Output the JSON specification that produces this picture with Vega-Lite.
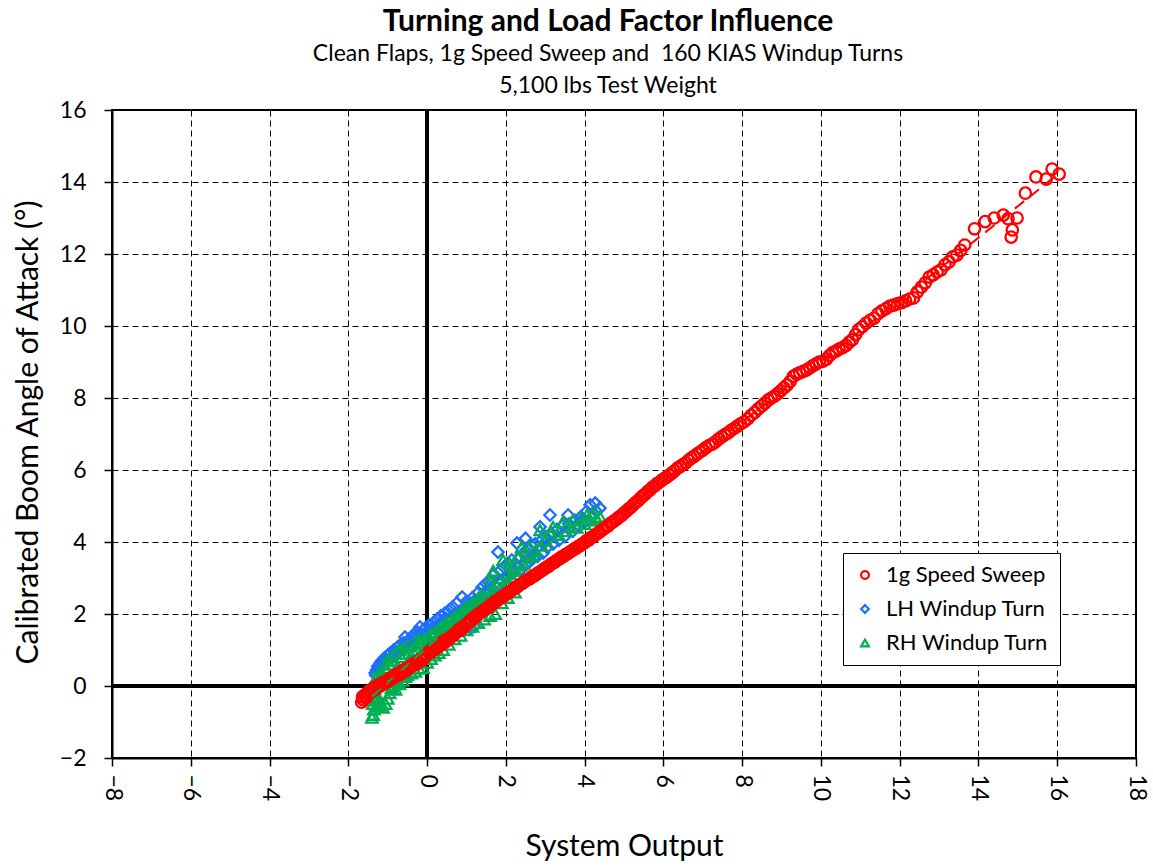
{
  "$schema": "https://vega.github.io/schema/vega-lite/v6.json",
  "width": 1024,
  "height": 648,
  "autosize": {"type": "none"},
  "padding": {"left": 112, "top": 110, "right": 17, "bottom": 109},
  "background": "white",
  "config": {
    "font": "Lato",
    "view": {"stroke": "black", "strokeWidth": 2},
    "axis": {
      "labelFont": "Lato", "titleFont": "Lato", "labelColor": "black", "titleColor": "black",
      "labelFontSize": 23, "titleFontSize": 30, "titleFontWeight": "normal",
      "domainColor": "black", "domainWidth": 2, "tickColor": "black", "tickWidth": 1.5, "tickSize": 8,
      "grid": true, "gridColor": "black", "gridWidth": 1, "gridDash": [6, 4], "gridOpacity": 1
    }
  },
  "title": {
    "text": "Turning and Load Factor Influence",
    "subtitle": ["Clean Flaps, 1g Speed Sweep and \u00a0160 KIAS Windup Turns", "5,100 lbs Test Weight"],
    "font": "Lato", "fontSize": 30, "fontWeight": "bold", "color": "black",
    "subtitleFont": "Lato", "subtitleFontSize": 23, "subtitleColor": "black", "subtitleLineHeight": 32,
    "subtitlePadding": 6, "anchor": "middle", "dx": -16, "offset": 1
  },
  "data": {"values": [
    {"s":"LH Windup Turn","x":-1.32,"y":0.36},{"s":"LH Windup Turn","x":-1.30,"y":0.30},{"s":"LH Windup Turn","x":-1.28,"y":0.45},{"s":"LH Windup Turn","x":-1.25,"y":0.55},{"s":"LH Windup Turn","x":-1.22,"y":0.50},{"s":"LH Windup Turn","x":-1.19,"y":0.64},{"s":"LH Windup Turn","x":-1.15,"y":0.70},{"s":"LH Windup Turn","x":-1.12,"y":0.62},{"s":"LH Windup Turn","x":-1.08,"y":0.78},{"s":"LH Windup Turn","x":-1.04,"y":0.72},{"s":"LH Windup Turn","x":-1.00,"y":0.85},{"s":"LH Windup Turn","x":-0.95,"y":0.90},{"s":"LH Windup Turn","x":-0.90,"y":0.82},{"s":"LH Windup Turn","x":-0.85,"y":1.00},{"s":"LH Windup Turn","x":-0.80,"y":0.95},{"s":"LH Windup Turn","x":-0.75,"y":1.08},{"s":"LH Windup Turn","x":-0.75,"y":0.12},{"s":"LH Windup Turn","x":-0.70,"y":0.25},{"s":"LH Windup Turn","x":-0.70,"y":1.12},{"s":"LH Windup Turn","x":-0.65,"y":1.05},{"s":"LH Windup Turn","x":-0.60,"y":1.20},{"s":"LH Windup Turn","x":-0.56,"y":1.36},{"s":"LH Windup Turn","x":-0.52,"y":1.18},{"s":"LH Windup Turn","x":-0.45,"y":1.30},{"s":"LH Windup Turn","x":-0.40,"y":1.25},{"s":"LH Windup Turn","x":-0.35,"y":1.42},{"s":"LH Windup Turn","x":-0.30,"y":1.35},{"s":"LH Windup Turn","x":-0.25,"y":1.50},{"s":"LH Windup Turn","x":-0.18,"y":1.64},{"s":"LH Windup Turn","x":-0.15,"y":1.45},{"s":"LH Windup Turn","x":-0.10,"y":1.55},{"s":"LH Windup Turn","x":-0.05,"y":1.60},{"s":"LH Windup Turn","x":0.00,"y":1.50},{"s":"LH Windup Turn","x":0.05,"y":1.70},{"s":"LH Windup Turn","x":0.10,"y":1.58},{"s":"LH Windup Turn","x":0.15,"y":1.75},{"s":"LH Windup Turn","x":0.20,"y":1.62},{"s":"LH Windup Turn","x":0.25,"y":1.85},{"s":"LH Windup Turn","x":0.30,"y":1.70},{"s":"LH Windup Turn","x":0.35,"y":1.95},{"s":"LH Windup Turn","x":0.40,"y":1.78},{"s":"LH Windup Turn","x":0.45,"y":2.02},{"s":"LH Windup Turn","x":0.50,"y":1.85},{"s":"LH Windup Turn","x":0.55,"y":2.10},{"s":"LH Windup Turn","x":0.60,"y":1.90},{"s":"LH Windup Turn","x":0.65,"y":2.20},{"s":"LH Windup Turn","x":0.70,"y":1.98},{"s":"LH Windup Turn","x":0.75,"y":2.30},{"s":"LH Windup Turn","x":0.80,"y":2.05},{"s":"LH Windup Turn","x":0.89,"y":2.47},{"s":"LH Windup Turn","x":0.95,"y":2.15},{"s":"LH Windup Turn","x":1.00,"y":2.35},{"s":"LH Windup Turn","x":1.05,"y":2.20},{"s":"LH Windup Turn","x":1.10,"y":1.60},{"s":"LH Windup Turn","x":1.20,"y":1.65},{"s":"LH Windup Turn","x":1.15,"y":2.45},{"s":"LH Windup Turn","x":1.25,"y":2.30},{"s":"LH Windup Turn","x":1.30,"y":2.60},{"s":"LH Windup Turn","x":1.35,"y":2.40},{"s":"LH Windup Turn","x":1.40,"y":2.75},{"s":"LH Windup Turn","x":1.45,"y":2.50},{"s":"LH Windup Turn","x":1.50,"y":2.85},{"s":"LH Windup Turn","x":1.55,"y":2.60},{"s":"LH Windup Turn","x":1.60,"y":2.95},{"s":"LH Windup Turn","x":1.65,"y":2.70},{"s":"LH Windup Turn","x":1.70,"y":3.10},{"s":"LH Windup Turn","x":1.75,"y":2.75},{"s":"LH Windup Turn","x":1.80,"y":3.72},{"s":"LH Windup Turn","x":1.85,"y":3.20},{"s":"LH Windup Turn","x":1.90,"y":2.90},{"s":"LH Windup Turn","x":1.95,"y":3.30},{"s":"LH Windup Turn","x":2.00,"y":3.00},{"s":"LH Windup Turn","x":2.05,"y":3.40},{"s":"LH Windup Turn","x":2.10,"y":3.10},{"s":"LH Windup Turn","x":2.15,"y":3.50},{"s":"LH Windup Turn","x":2.20,"y":3.15},{"s":"LH Windup Turn","x":2.28,"y":3.97},{"s":"LH Windup Turn","x":2.30,"y":3.30},{"s":"LH Windup Turn","x":2.35,"y":3.55},{"s":"LH Windup Turn","x":2.40,"y":3.25},{"s":"LH Windup Turn","x":2.45,"y":3.70},{"s":"LH Windup Turn","x":2.50,"y":4.10},{"s":"LH Windup Turn","x":2.50,"y":3.36},{"s":"LH Windup Turn","x":2.55,"y":3.80},{"s":"LH Windup Turn","x":2.60,"y":3.45},{"s":"LH Windup Turn","x":2.65,"y":3.90},{"s":"LH Windup Turn","x":2.70,"y":3.55},{"s":"LH Windup Turn","x":2.75,"y":3.95},{"s":"LH Windup Turn","x":2.80,"y":3.60},{"s":"LH Windup Turn","x":2.87,"y":4.42},{"s":"LH Windup Turn","x":2.90,"y":4.05},{"s":"LH Windup Turn","x":2.95,"y":3.70},{"s":"LH Windup Turn","x":3.00,"y":4.15},{"s":"LH Windup Turn","x":3.05,"y":3.85},{"s":"LH Windup Turn","x":3.12,"y":4.75},{"s":"LH Windup Turn","x":3.15,"y":4.25},{"s":"LH Windup Turn","x":3.20,"y":3.95},{"s":"LH Windup Turn","x":3.30,"y":4.35},{"s":"LH Windup Turn","x":3.35,"y":4.05},{"s":"LH Windup Turn","x":3.45,"y":4.45},{"s":"LH Windup Turn","x":3.50,"y":4.15},{"s":"LH Windup Turn","x":3.58,"y":4.75},{"s":"LH Windup Turn","x":3.60,"y":4.50},{"s":"LH Windup Turn","x":3.70,"y":4.30},{"s":"LH Windup Turn","x":3.75,"y":4.60},{"s":"LH Windup Turn","x":3.85,"y":4.45},{"s":"LH Windup Turn","x":3.90,"y":4.70},{"s":"LH Windup Turn","x":4.00,"y":4.55},{"s":"LH Windup Turn","x":4.05,"y":4.85},{"s":"LH Windup Turn","x":4.14,"y":5.03},{"s":"LH Windup Turn","x":4.20,"y":4.70},{"s":"LH Windup Turn","x":4.27,"y":5.08},{"s":"LH Windup Turn","x":4.30,"y":4.85},{"s":"LH Windup Turn","x":4.39,"y":4.94},

    {"s":"RH Windup Turn","x":-1.40,"y":-0.88},{"s":"RH Windup Turn","x":-1.37,"y":-0.80},{"s":"RH Windup Turn","x":-1.35,"y":-0.65},{"s":"RH Windup Turn","x":-1.38,"y":-0.50},{"s":"RH Windup Turn","x":-1.33,"y":-0.40},{"s":"RH Windup Turn","x":-1.36,"y":-0.28},{"s":"RH Windup Turn","x":-1.30,"y":-0.20},{"s":"RH Windup Turn","x":-1.34,"y":-0.08},{"s":"RH Windup Turn","x":-1.27,"y":-0.35},{"s":"RH Windup Turn","x":-1.22,"y":-0.55},{"s":"RH Windup Turn","x":-1.18,"y":-0.45},{"s":"RH Windup Turn","x":-1.12,"y":-0.60},{"s":"RH Windup Turn","x":-1.05,"y":-0.50},{"s":"RH Windup Turn","x":-1.00,"y":-0.35},{"s":"RH Windup Turn","x":-0.95,"y":-0.20},{"s":"RH Windup Turn","x":-0.90,"y":-0.05},{"s":"RH Windup Turn","x":-0.85,"y":0.00},{"s":"RH Windup Turn","x":-0.80,"y":-0.10},{"s":"RH Windup Turn","x":-0.75,"y":0.10},{"s":"RH Windup Turn","x":-0.70,"y":0.05},{"s":"RH Windup Turn","x":-0.62,"y":0.15},{"s":"RH Windup Turn","x":-0.55,"y":0.25},{"s":"RH Windup Turn","x":-0.50,"y":0.30},{"s":"RH Windup Turn","x":-0.40,"y":0.35},{"s":"RH Windup Turn","x":-0.30,"y":0.40},{"s":"RH Windup Turn","x":-0.20,"y":0.48},{"s":"RH Windup Turn","x":-0.10,"y":0.50},{"s":"RH Windup Turn","x":0.00,"y":0.65},{"s":"RH Windup Turn","x":0.10,"y":0.75},{"s":"RH Windup Turn","x":0.20,"y":0.85},{"s":"RH Windup Turn","x":0.30,"y":0.92},{"s":"RH Windup Turn","x":0.41,"y":1.00},{"s":"RH Windup Turn","x":0.55,"y":1.15},{"s":"RH Windup Turn","x":0.70,"y":1.30},{"s":"RH Windup Turn","x":0.85,"y":1.40},{"s":"RH Windup Turn","x":1.00,"y":1.55},{"s":"RH Windup Turn","x":1.15,"y":1.65},{"s":"RH Windup Turn","x":1.30,"y":1.75},{"s":"RH Windup Turn","x":1.45,"y":1.85},{"s":"RH Windup Turn","x":1.60,"y":1.95},{"s":"RH Windup Turn","x":1.73,"y":2.00},{"s":"RH Windup Turn","x":1.90,"y":2.30},{"s":"RH Windup Turn","x":2.05,"y":2.45},{"s":"RH Windup Turn","x":2.23,"y":2.60},
    {"s":"RH Windup Turn","x":-1.30,"y":0.05},{"s":"RH Windup Turn","x":-1.28,"y":0.25},{"s":"RH Windup Turn","x":-1.22,"y":0.17},{"s":"RH Windup Turn","x":-1.20,"y":0.45},{"s":"RH Windup Turn","x":-1.15,"y":0.35},{"s":"RH Windup Turn","x":-1.10,"y":0.60},{"s":"RH Windup Turn","x":-1.05,"y":0.50},{"s":"RH Windup Turn","x":-1.00,"y":0.70},{"s":"RH Windup Turn","x":-0.95,"y":0.60},{"s":"RH Windup Turn","x":-0.90,"y":0.80},{"s":"RH Windup Turn","x":-0.85,"y":0.70},{"s":"RH Windup Turn","x":-0.80,"y":0.90},{"s":"RH Windup Turn","x":-0.75,"y":0.55},{"s":"RH Windup Turn","x":-0.70,"y":1.00},{"s":"RH Windup Turn","x":-0.65,"y":0.80},{"s":"RH Windup Turn","x":-0.60,"y":1.05},{"s":"RH Windup Turn","x":-0.55,"y":0.90},{"s":"RH Windup Turn","x":-0.50,"y":1.10},{"s":"RH Windup Turn","x":-0.45,"y":0.70},{"s":"RH Windup Turn","x":-0.40,"y":1.15},{"s":"RH Windup Turn","x":-0.35,"y":0.95},{"s":"RH Windup Turn","x":-0.30,"y":1.20},{"s":"RH Windup Turn","x":-0.25,"y":1.00},{"s":"RH Windup Turn","x":-0.20,"y":1.30},{"s":"RH Windup Turn","x":-0.15,"y":0.90},{"s":"RH Windup Turn","x":-0.10,"y":1.35},{"s":"RH Windup Turn","x":-0.05,"y":1.10},{"s":"RH Windup Turn","x":0.00,"y":1.40},{"s":"RH Windup Turn","x":0.05,"y":1.20},{"s":"RH Windup Turn","x":0.10,"y":1.45},{"s":"RH Windup Turn","x":0.15,"y":1.10},{"s":"RH Windup Turn","x":0.20,"y":1.50},{"s":"RH Windup Turn","x":0.25,"y":1.30},{"s":"RH Windup Turn","x":0.30,"y":1.60},{"s":"RH Windup Turn","x":0.35,"y":1.40},{"s":"RH Windup Turn","x":0.40,"y":1.70},{"s":"RH Windup Turn","x":0.45,"y":1.50},{"s":"RH Windup Turn","x":0.50,"y":1.75},{"s":"RH Windup Turn","x":0.55,"y":1.55},{"s":"RH Windup Turn","x":0.60,"y":1.85},{"s":"RH Windup Turn","x":0.65,"y":1.65},{"s":"RH Windup Turn","x":0.70,"y":1.90},{"s":"RH Windup Turn","x":0.75,"y":1.70},{"s":"RH Windup Turn","x":0.80,"y":2.00},{"s":"RH Windup Turn","x":0.85,"y":1.80},{"s":"RH Windup Turn","x":0.90,"y":2.10},{"s":"RH Windup Turn","x":0.95,"y":1.90},{"s":"RH Windup Turn","x":1.00,"y":2.20},{"s":"RH Windup Turn","x":1.05,"y":2.00},{"s":"RH Windup Turn","x":1.10,"y":2.30},{"s":"RH Windup Turn","x":1.15,"y":2.05},{"s":"RH Windup Turn","x":1.20,"y":2.35},{"s":"RH Windup Turn","x":1.25,"y":2.15},{"s":"RH Windup Turn","x":1.30,"y":2.45},{"s":"RH Windup Turn","x":1.35,"y":2.20},{"s":"RH Windup Turn","x":1.40,"y":2.55},{"s":"RH Windup Turn","x":1.45,"y":2.30},{"s":"RH Windup Turn","x":1.50,"y":2.70},{"s":"RH Windup Turn","x":1.55,"y":2.40},{"s":"RH Windup Turn","x":1.60,"y":2.90},{"s":"RH Windup Turn","x":1.68,"y":3.20},{"s":"RH Windup Turn","x":1.70,"y":2.60},{"s":"RH Windup Turn","x":1.80,"y":3.00},{"s":"RH Windup Turn","x":1.85,"y":2.70},{"s":"RH Windup Turn","x":1.93,"y":3.50},{"s":"RH Windup Turn","x":2.00,"y":3.10},{"s":"RH Windup Turn","x":2.05,"y":2.90},{"s":"RH Windup Turn","x":2.10,"y":3.40},{"s":"RH Windup Turn","x":2.15,"y":3.00},{"s":"RH Windup Turn","x":2.20,"y":3.30},{"s":"RH Windup Turn","x":2.30,"y":3.60},{"s":"RH Windup Turn","x":2.35,"y":3.20},{"s":"RH Windup Turn","x":2.40,"y":3.86},{"s":"RH Windup Turn","x":2.45,"y":3.40},{"s":"RH Windup Turn","x":2.50,"y":3.60},{"s":"RH Windup Turn","x":2.60,"y":3.87},{"s":"RH Windup Turn","x":2.65,"y":3.60},{"s":"RH Windup Turn","x":2.75,"y":3.75},{"s":"RH Windup Turn","x":2.87,"y":4.33},{"s":"RH Windup Turn","x":2.90,"y":3.90},{"s":"RH Windup Turn","x":3.00,"y":4.05},{"s":"RH Windup Turn","x":3.12,"y":4.25},{"s":"RH Windup Turn","x":3.20,"y":4.42},{"s":"RH Windup Turn","x":3.30,"y":4.20},{"s":"RH Windup Turn","x":3.45,"y":4.56},{"s":"RH Windup Turn","x":3.50,"y":4.30},{"s":"RH Windup Turn","x":3.60,"y":4.45},{"s":"RH Windup Turn","x":3.70,"y":4.60},{"s":"RH Windup Turn","x":3.80,"y":4.40},{"s":"RH Windup Turn","x":3.90,"y":4.65},{"s":"RH Windup Turn","x":4.00,"y":4.50},{"s":"RH Windup Turn","x":4.06,"y":4.75},{"s":"RH Windup Turn","x":4.15,"y":4.60},{"s":"RH Windup Turn","x":4.20,"y":4.80},{"s":"RH Windup Turn","x":4.30,"y":4.65},{"s":"RH Windup Turn","x":4.39,"y":4.70},

    {"s":"1g Speed Sweep","x":-1.66,"y":-0.45},{"s":"1g Speed Sweep","x":-1.64,"y":-0.30},{"s":"1g Speed Sweep","x":-1.62,"y":-0.38},{"s":"1g Speed Sweep","x":-1.58,"y":-0.25},{"s":"1g Speed Sweep","x":-1.55,"y":-0.33},{"s":"1g Speed Sweep","x":-1.52,"y":-0.20},{"s":"1g Speed Sweep","x":-1.48,"y":-0.22},{"s":"1g Speed Sweep","x":-1.45,"y":-0.12},{"s":"1g Speed Sweep","x":-1.40,"y":-0.15},{"s":"1g Speed Sweep","x":-1.36,"y":-0.05},{"s":"1g Speed Sweep","x":-1.32,"y":-0.10},{"s":"1g Speed Sweep","x":-1.28,"y":0.00},{"s":"1g Speed Sweep","x":-1.24,"y":-0.03},{"s":"1g Speed Sweep","x":-1.20,"y":0.05},{"s":"1g Speed Sweep","x":-1.15,"y":0.02},{"s":"1g Speed Sweep","x":-1.11,"y":0.10},{"s":"1g Speed Sweep","x":-1.07,"y":0.08},{"s":"1g Speed Sweep","x":-1.02,"y":0.16},{"s":"1g Speed Sweep","x":-0.98,"y":0.14},{"s":"1g Speed Sweep","x":-0.94,"y":0.22},{"s":"1g Speed Sweep","x":-0.90,"y":0.20},{"s":"1g Speed Sweep","x":-0.85,"y":0.27},{"s":"1g Speed Sweep","x":-0.81,"y":0.25},{"s":"1g Speed Sweep","x":-0.77,"y":0.33},{"s":"1g Speed Sweep","x":-0.72,"y":0.31},{"s":"1g Speed Sweep","x":-0.68,"y":0.38},{"s":"1g Speed Sweep","x":-0.64,"y":0.36},{"s":"1g Speed Sweep","x":-0.60,"y":0.44},{"s":"1g Speed Sweep","x":-0.55,"y":0.42},{"s":"1g Speed Sweep","x":-0.51,"y":0.50},{"s":"1g Speed Sweep","x":-0.47,"y":0.48},{"s":"1g Speed Sweep","x":-0.42,"y":0.56},{"s":"1g Speed Sweep","x":-0.38,"y":0.55},{"s":"1g Speed Sweep","x":-0.34,"y":0.62},{"s":"1g Speed Sweep","x":-0.30,"y":0.60},{"s":"1g Speed Sweep","x":-0.25,"y":0.68},{"s":"1g Speed Sweep","x":-0.21,"y":0.66},{"s":"1g Speed Sweep","x":-0.17,"y":0.74},{"s":"1g Speed Sweep","x":-0.12,"y":0.72},{"s":"1g Speed Sweep","x":-0.08,"y":0.80},{"s":"1g Speed Sweep","x":-0.04,"y":0.82},{"s":"1g Speed Sweep","x":0.00,"y":0.88},{"s":"1g Speed Sweep","x":0.05,"y":0.95},{"s":"1g Speed Sweep","x":0.09,"y":0.93},{"s":"1g Speed Sweep","x":0.14,"y":1.02},{"s":"1g Speed Sweep","x":0.18,"y":1.00},{"s":"1g Speed Sweep","x":0.23,"y":1.10},{"s":"1g Speed Sweep","x":0.28,"y":1.08},{"s":"1g Speed Sweep","x":0.32,"y":1.17},{"s":"1g Speed Sweep","x":0.37,"y":1.15},{"s":"1g Speed Sweep","x":0.42,"y":1.25},{"s":"1g Speed Sweep","x":0.46,"y":1.22},{"s":"1g Speed Sweep","x":0.51,"y":1.32},{"s":"1g Speed Sweep","x":0.56,"y":1.30},{"s":"1g Speed Sweep","x":0.60,"y":1.38},{"s":"1g Speed Sweep","x":0.65,"y":1.40},{"s":"1g Speed Sweep","x":0.70,"y":1.46},{"s":"1g Speed Sweep","x":0.74,"y":1.48},{"s":"1g Speed Sweep","x":0.79,"y":1.55},{"s":"1g Speed Sweep","x":0.84,"y":1.54},{"s":"1g Speed Sweep","x":0.88,"y":1.63},{"s":"1g Speed Sweep","x":0.93,"y":1.62},{"s":"1g Speed Sweep","x":0.98,"y":1.70},{"s":"1g Speed Sweep","x":1.03,"y":1.75},{"s":"1g Speed Sweep","x":1.08,"y":1.80},{"s":"1g Speed Sweep","x":1.13,"y":1.82},{"s":"1g Speed Sweep","x":1.18,"y":1.90},{"s":"1g Speed Sweep","x":1.23,"y":1.92},{"s":"1g Speed Sweep","x":1.28,"y":1.98},{"s":"1g Speed Sweep","x":1.33,"y":2.02},{"s":"1g Speed Sweep","x":1.38,"y":2.05},{"s":"1g Speed Sweep","x":1.43,"y":2.10},{"s":"1g Speed Sweep","x":1.48,"y":2.13},{"s":"1g Speed Sweep","x":1.53,"y":2.18},{"s":"1g Speed Sweep","x":1.58,"y":2.20},{"s":"1g Speed Sweep","x":1.63,"y":2.27},{"s":"1g Speed Sweep","x":1.68,"y":2.28},{"s":"1g Speed Sweep","x":1.73,"y":2.35},{"s":"1g Speed Sweep","x":1.78,"y":2.37},{"s":"1g Speed Sweep","x":1.83,"y":2.42},{"s":"1g Speed Sweep","x":1.88,"y":2.45},{"s":"1g Speed Sweep","x":1.93,"y":2.50},{"s":"1g Speed Sweep","x":1.98,"y":2.52},{"s":"1g Speed Sweep","x":2.03,"y":2.58},{"s":"1g Speed Sweep","x":2.08,"y":2.60},{"s":"1g Speed Sweep","x":2.14,"y":2.66},{"s":"1g Speed Sweep","x":2.19,"y":2.68},{"s":"1g Speed Sweep","x":2.24,"y":2.74},{"s":"1g Speed Sweep","x":2.29,"y":2.75},{"s":"1g Speed Sweep","x":2.35,"y":2.82},{"s":"1g Speed Sweep","x":2.40,"y":2.84},{"s":"1g Speed Sweep","x":2.45,"y":2.88},{"s":"1g Speed Sweep","x":2.50,"y":2.92},{"s":"1g Speed Sweep","x":2.56,"y":2.96},{"s":"1g Speed Sweep","x":2.61,"y":2.98},{"s":"1g Speed Sweep","x":2.66,"y":3.04},{"s":"1g Speed Sweep","x":2.72,"y":3.06},{"s":"1g Speed Sweep","x":2.77,"y":3.10},{"s":"1g Speed Sweep","x":2.82,"y":3.14},{"s":"1g Speed Sweep","x":2.88,"y":3.18},{"s":"1g Speed Sweep","x":2.93,"y":3.22},{"s":"1g Speed Sweep","x":2.98,"y":3.26},{"s":"1g Speed Sweep","x":3.04,"y":3.30},{"s":"1g Speed Sweep","x":3.09,"y":3.33},{"s":"1g Speed Sweep","x":3.14,"y":3.38},{"s":"1g Speed Sweep","x":3.20,"y":3.42},{"s":"1g Speed Sweep","x":3.25,"y":3.45},{"s":"1g Speed Sweep","x":3.30,"y":3.50},{"s":"1g Speed Sweep","x":3.36,"y":3.53},{"s":"1g Speed Sweep","x":3.41,"y":3.58},{"s":"1g Speed Sweep","x":3.46,"y":3.60},{"s":"1g Speed Sweep","x":3.52,"y":3.65},{"s":"1g Speed Sweep","x":3.57,"y":3.68},{"s":"1g Speed Sweep","x":3.62,"y":3.72},{"s":"1g Speed Sweep","x":3.68,"y":3.76},{"s":"1g Speed Sweep","x":3.73,"y":3.80},{"s":"1g Speed Sweep","x":3.78,"y":3.82},{"s":"1g Speed Sweep","x":3.84,"y":3.88},{"s":"1g Speed Sweep","x":3.89,"y":3.90},{"s":"1g Speed Sweep","x":3.94,"y":3.95},{"s":"1g Speed Sweep","x":4.00,"y":3.98},{"s":"1g Speed Sweep","x":4.05,"y":4.04},{"s":"1g Speed Sweep","x":4.11,"y":4.06},{"s":"1g Speed Sweep","x":4.16,"y":4.12},{"s":"1g Speed Sweep","x":4.22,"y":4.15},{"s":"1g Speed Sweep","x":4.27,"y":4.20},{"s":"1g Speed Sweep","x":4.33,"y":4.24},{"s":"1g Speed Sweep","x":4.38,"y":4.28},{"s":"1g Speed Sweep","x":4.44,"y":4.33},{"s":"1g Speed Sweep","x":4.49,"y":4.37},{"s":"1g Speed Sweep","x":4.55,"y":4.42},{"s":"1g Speed Sweep","x":4.60,"y":4.45},{"s":"1g Speed Sweep","x":4.66,"y":4.52},{"s":"1g Speed Sweep","x":4.71,"y":4.55},{"s":"1g Speed Sweep","x":4.77,"y":4.60},{"s":"1g Speed Sweep","x":4.83,"y":4.65},{"s":"1g Speed Sweep","x":4.88,"y":4.70},{"s":"1g Speed Sweep","x":4.94,"y":4.74},{"s":"1g Speed Sweep","x":5.00,"y":4.80},{"s":"1g Speed Sweep","x":5.06,"y":4.86},{"s":"1g Speed Sweep","x":5.12,"y":4.92},{"s":"1g Speed Sweep","x":5.18,"y":4.97},{"s":"1g Speed Sweep","x":5.24,"y":5.04},{"s":"1g Speed Sweep","x":5.30,"y":5.10},{"s":"1g Speed Sweep","x":5.36,"y":5.15},{"s":"1g Speed Sweep","x":5.42,"y":5.22},{"s":"1g Speed Sweep","x":5.48,"y":5.28},{"s":"1g Speed Sweep","x":5.54,"y":5.33},{"s":"1g Speed Sweep","x":5.60,"y":5.40},{"s":"1g Speed Sweep","x":5.66,"y":5.45},{"s":"1g Speed Sweep","x":5.72,"y":5.52},{"s":"1g Speed Sweep","x":5.78,"y":5.56},{"s":"1g Speed Sweep","x":5.84,"y":5.62},{"s":"1g Speed Sweep","x":5.90,"y":5.66},{"s":"1g Speed Sweep","x":5.96,"y":5.72},{"s":"1g Speed Sweep","x":6.02,"y":5.76},{"s":"1g Speed Sweep","x":6.08,"y":5.80},{"s":"1g Speed Sweep","x":6.15,"y":5.86},{"s":"1g Speed Sweep","x":6.22,"y":5.92},{"s":"1g Speed Sweep","x":6.29,"y":5.98},{"s":"1g Speed Sweep","x":6.36,"y":6.05},{"s":"1g Speed Sweep","x":6.43,"y":6.10},{"s":"1g Speed Sweep","x":6.50,"y":6.15},{"s":"1g Speed Sweep","x":6.57,"y":6.20},{"s":"1g Speed Sweep","x":6.64,"y":6.27},{"s":"1g Speed Sweep","x":6.71,"y":6.33},{"s":"1g Speed Sweep","x":6.78,"y":6.38},{"s":"1g Speed Sweep","x":6.86,"y":6.45},{"s":"1g Speed Sweep","x":6.93,"y":6.50},{"s":"1g Speed Sweep","x":7.00,"y":6.55},{"s":"1g Speed Sweep","x":7.08,"y":6.62},{"s":"1g Speed Sweep","x":7.16,"y":6.68},{"s":"1g Speed Sweep","x":7.24,"y":6.72},{"s":"1g Speed Sweep","x":7.32,"y":6.78},{"s":"1g Speed Sweep","x":7.40,"y":6.86},{"s":"1g Speed Sweep","x":7.48,"y":6.92},{"s":"1g Speed Sweep","x":7.56,"y":6.98},{"s":"1g Speed Sweep","x":7.64,"y":7.03},{"s":"1g Speed Sweep","x":7.72,"y":7.10},{"s":"1g Speed Sweep","x":7.80,"y":7.16},{"s":"1g Speed Sweep","x":7.88,"y":7.22},{"s":"1g Speed Sweep","x":7.96,"y":7.28},{"s":"1g Speed Sweep","x":8.05,"y":7.34},{"s":"1g Speed Sweep","x":8.14,"y":7.42},{"s":"1g Speed Sweep","x":8.23,"y":7.52},{"s":"1g Speed Sweep","x":8.32,"y":7.60},{"s":"1g Speed Sweep","x":8.41,"y":7.70},{"s":"1g Speed Sweep","x":8.50,"y":7.78},{"s":"1g Speed Sweep","x":8.58,"y":7.86},{"s":"1g Speed Sweep","x":8.66,"y":7.94},{"s":"1g Speed Sweep","x":8.74,"y":8.00},{"s":"1g Speed Sweep","x":8.82,"y":8.05},{"s":"1g Speed Sweep","x":8.90,"y":8.12},{"s":"1g Speed Sweep","x":8.98,"y":8.20},{"s":"1g Speed Sweep","x":9.06,"y":8.28},{"s":"1g Speed Sweep","x":9.14,"y":8.36},{"s":"1g Speed Sweep","x":9.22,"y":8.46},{"s":"1g Speed Sweep","x":9.30,"y":8.60},{"s":"1g Speed Sweep","x":9.38,"y":8.66},{"s":"1g Speed Sweep","x":9.46,"y":8.70},{"s":"1g Speed Sweep","x":9.55,"y":8.74},{"s":"1g Speed Sweep","x":9.64,"y":8.78},{"s":"1g Speed Sweep","x":9.72,"y":8.84},{"s":"1g Speed Sweep","x":9.80,"y":8.90},{"s":"1g Speed Sweep","x":9.88,"y":8.95},{"s":"1g Speed Sweep","x":9.96,"y":9.00},{"s":"1g Speed Sweep","x":10.05,"y":9.02},{"s":"1g Speed Sweep","x":10.14,"y":9.08},{"s":"1g Speed Sweep","x":10.22,"y":9.18},{"s":"1g Speed Sweep","x":10.30,"y":9.26},{"s":"1g Speed Sweep","x":10.38,"y":9.30},{"s":"1g Speed Sweep","x":10.46,"y":9.36},{"s":"1g Speed Sweep","x":10.55,"y":9.40},{"s":"1g Speed Sweep","x":10.64,"y":9.46},{"s":"1g Speed Sweep","x":10.72,"y":9.55},{"s":"1g Speed Sweep","x":10.80,"y":9.62},{"s":"1g Speed Sweep","x":10.88,"y":9.76},{"s":"1g Speed Sweep","x":10.96,"y":9.90},{"s":"1g Speed Sweep","x":11.05,"y":9.98},{"s":"1g Speed Sweep","x":11.15,"y":10.08},{"s":"1g Speed Sweep","x":11.25,"y":10.16},{"s":"1g Speed Sweep","x":11.35,"y":10.22},{"s":"1g Speed Sweep","x":11.45,"y":10.34},{"s":"1g Speed Sweep","x":11.55,"y":10.42},{"s":"1g Speed Sweep","x":11.65,"y":10.48},{"s":"1g Speed Sweep","x":11.75,"y":10.55},{"s":"1g Speed Sweep","x":11.85,"y":10.58},{"s":"1g Speed Sweep","x":11.95,"y":10.62},{"s":"1g Speed Sweep","x":12.05,"y":10.65},{"s":"1g Speed Sweep","x":12.15,"y":10.70},{"s":"1g Speed Sweep","x":12.25,"y":10.75},{"s":"1g Speed Sweep","x":12.35,"y":10.78},{"s":"1g Speed Sweep","x":12.45,"y":10.95},{"s":"1g Speed Sweep","x":12.55,"y":11.08},{"s":"1g Speed Sweep","x":12.65,"y":11.20},{"s":"1g Speed Sweep","x":12.75,"y":11.36},{"s":"1g Speed Sweep","x":12.85,"y":11.42},{"s":"1g Speed Sweep","x":12.95,"y":11.50},{"s":"1g Speed Sweep","x":13.05,"y":11.56},{"s":"1g Speed Sweep","x":13.15,"y":11.70},{"s":"1g Speed Sweep","x":13.25,"y":11.78},{"s":"1g Speed Sweep","x":13.35,"y":11.92},{"s":"1g Speed Sweep","x":13.45,"y":11.97},{"s":"1g Speed Sweep","x":13.55,"y":12.10},{"s":"1g Speed Sweep","x":13.65,"y":12.25},{"s":"1g Speed Sweep","x":13.90,"y":12.70},{"s":"1g Speed Sweep","x":14.17,"y":12.90},{"s":"1g Speed Sweep","x":14.40,"y":13.00},{"s":"1g Speed Sweep","x":14.63,"y":13.08},{"s":"1g Speed Sweep","x":14.75,"y":12.98},{"s":"1g Speed Sweep","x":14.98,"y":13.00},{"s":"1g Speed Sweep","x":14.86,"y":12.67},{"s":"1g Speed Sweep","x":14.83,"y":12.47},{"s":"1g Speed Sweep","x":15.19,"y":13.69},{"s":"1g Speed Sweep","x":15.46,"y":14.14},{"s":"1g Speed Sweep","x":15.72,"y":14.08},{"s":"1g Speed Sweep","x":15.87,"y":14.36},{"s":"1g Speed Sweep","x":16.05,"y":14.22}
  ]},
  "layer": [
    {
      "mark": {"type": "rule", "color": "black", "strokeWidth": 3},
      "encoding": {"x": {"datum": 0, "type": "quantitative"}}
    },
    {
      "mark": {"type": "rule", "color": "black", "strokeWidth": 3},
      "encoding": {"y": {"datum": 0, "type": "quantitative"}}
    },
    {
      "mark": {"type": "point", "filled": false, "strokeWidth": 2.3, "size": 130, "opacity": 1},
      "encoding": {
        "x": {"field": "x", "type": "quantitative",
          "scale": {"domain": [-8, 18], "nice": false, "zero": false},
          "axis": {"values": [-8,-6,-4,-2,0,2,4,6,8,10,12,14,16,18], "labelAngle": 90, "labelAlign": "left", "labelBaseline": "middle", "labelPadding": 8,
                   "title": "System Output", "titleY": 88, "titleBaseline": "middle"}},
        "y": {"field": "y", "type": "quantitative",
          "scale": {"domain": [-2, 16], "nice": false, "zero": false},
          "axis": {"values": [-2,0,2,4,6,8,10,12,14,16], "labelPadding": 18,
                   "title": "Calibrated Boom Angle of Attack (°)", "titleX": -84, "titleY": 322, "titleAlign": "center", "titleBaseline": "middle"}},
        "color": {"field": "s", "type": "nominal",
          "scale": {"domain": ["1g Speed Sweep", "LH Windup Turn", "RH Windup Turn"], "range": ["#FF0000", "#1F6FFF", "#00B050"]},
          "legend": {"title": null, "orient": "none", "legendX": 731, "legendY": 443,
            "labelFontSize": 22, "labelFont": "Lato", "labelColor": "black", "labelLimit": 400, "symbolSize": 60, "symbolStrokeWidth": 2.2,
            "fillColor": "white", "strokeColor": "black", "padding": 11, "rowPadding": 12, "labelOffset": 10}},
        "shape": {"field": "s", "type": "nominal",
          "scale": {"domain": ["1g Speed Sweep", "LH Windup Turn", "RH Windup Turn"], "range": ["circle", "diamond", "triangle-up"]}}
      }
    },
    {
      "transform": [{"regression": "y", "on": "x", "groupby": ["s"], "method": "poly", "order": 2}],
      "mark": {"type": "line", "strokeDash": [12, 7], "strokeWidth": 2},
      "encoding": {
        "x": {"field": "x", "type": "quantitative"},
        "y": {"field": "y", "type": "quantitative"},
        "color": {"field": "s", "type": "nominal", "legend": null}
      }
    }
  ]
}
